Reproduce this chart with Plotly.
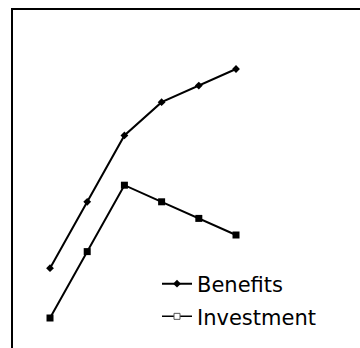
import plotly.graph_objects as go

periods = [0, 1, 2, 3, 4, 5]
benefits = [3, 7, 11, 13, 14, 15]
investment = [0, 4, 8, 7, 6, 5]

FONT = "DejaVu Sans"

fig = go.Figure()

fig.add_trace(go.Scatter(
    x=periods, y=benefits, mode="lines+markers", name="Benefits",
    line=dict(color="black", width=2),
    marker=dict(symbol="diamond", size=6, color="black"),
    showlegend=True, legend="legend",
))
fig.add_trace(go.Scatter(
    x=periods, y=investment, mode="lines+markers", name="Investment",
    line=dict(color="black", width=2),
    marker=dict(symbol="square", size=7, color="black"),
    showlegend=False,
))
# legend-only entry (hollow square as in the reference legend)
fig.add_trace(go.Scatter(
    x=[None], y=[None], mode="lines+markers", name="Investment",
    line=dict(color="black", width=1.5),
    marker=dict(symbol="square", size=6, color="white",
                line=dict(color="#555555", width=1)),
    showlegend=True, legend="legend2",
))

LX = (157 - 13) / 347

fig.update_layout(
    width=360, height=348,
    margin=dict(l=13, r=0, t=10, b=0),
    paper_bgcolor="white", plot_bgcolor="white",
    font=dict(family=FONT, color="black", size=21),
    xaxis=dict(range=[-0.995, 8.333], showgrid=False, zeroline=False,
               showticklabels=False, ticks="", showline=True, side="top",
               linecolor="black", linewidth=2, mirror=False),
    yaxis=dict(range=[-1.807, 18.554], showgrid=False, zeroline=False,
               showticklabels=False, ticks="", showline=True,
               linecolor="black", linewidth=2, mirror=False),
    legend=dict(x=LX, xanchor="left", y=(348 - 284) / 338,
                yanchor="middle", bgcolor="rgba(0,0,0,0)", borderwidth=0,
                font=dict(family=FONT, size=21, color="black")),
    legend2=dict(x=LX, xanchor="left", y=(348 - 316.7) / 338,
                 yanchor="middle", bgcolor="rgba(0,0,0,0)", borderwidth=0,
                 font=dict(family=FONT, size=21, color="black")),
)

fig.write_html("out.html")
